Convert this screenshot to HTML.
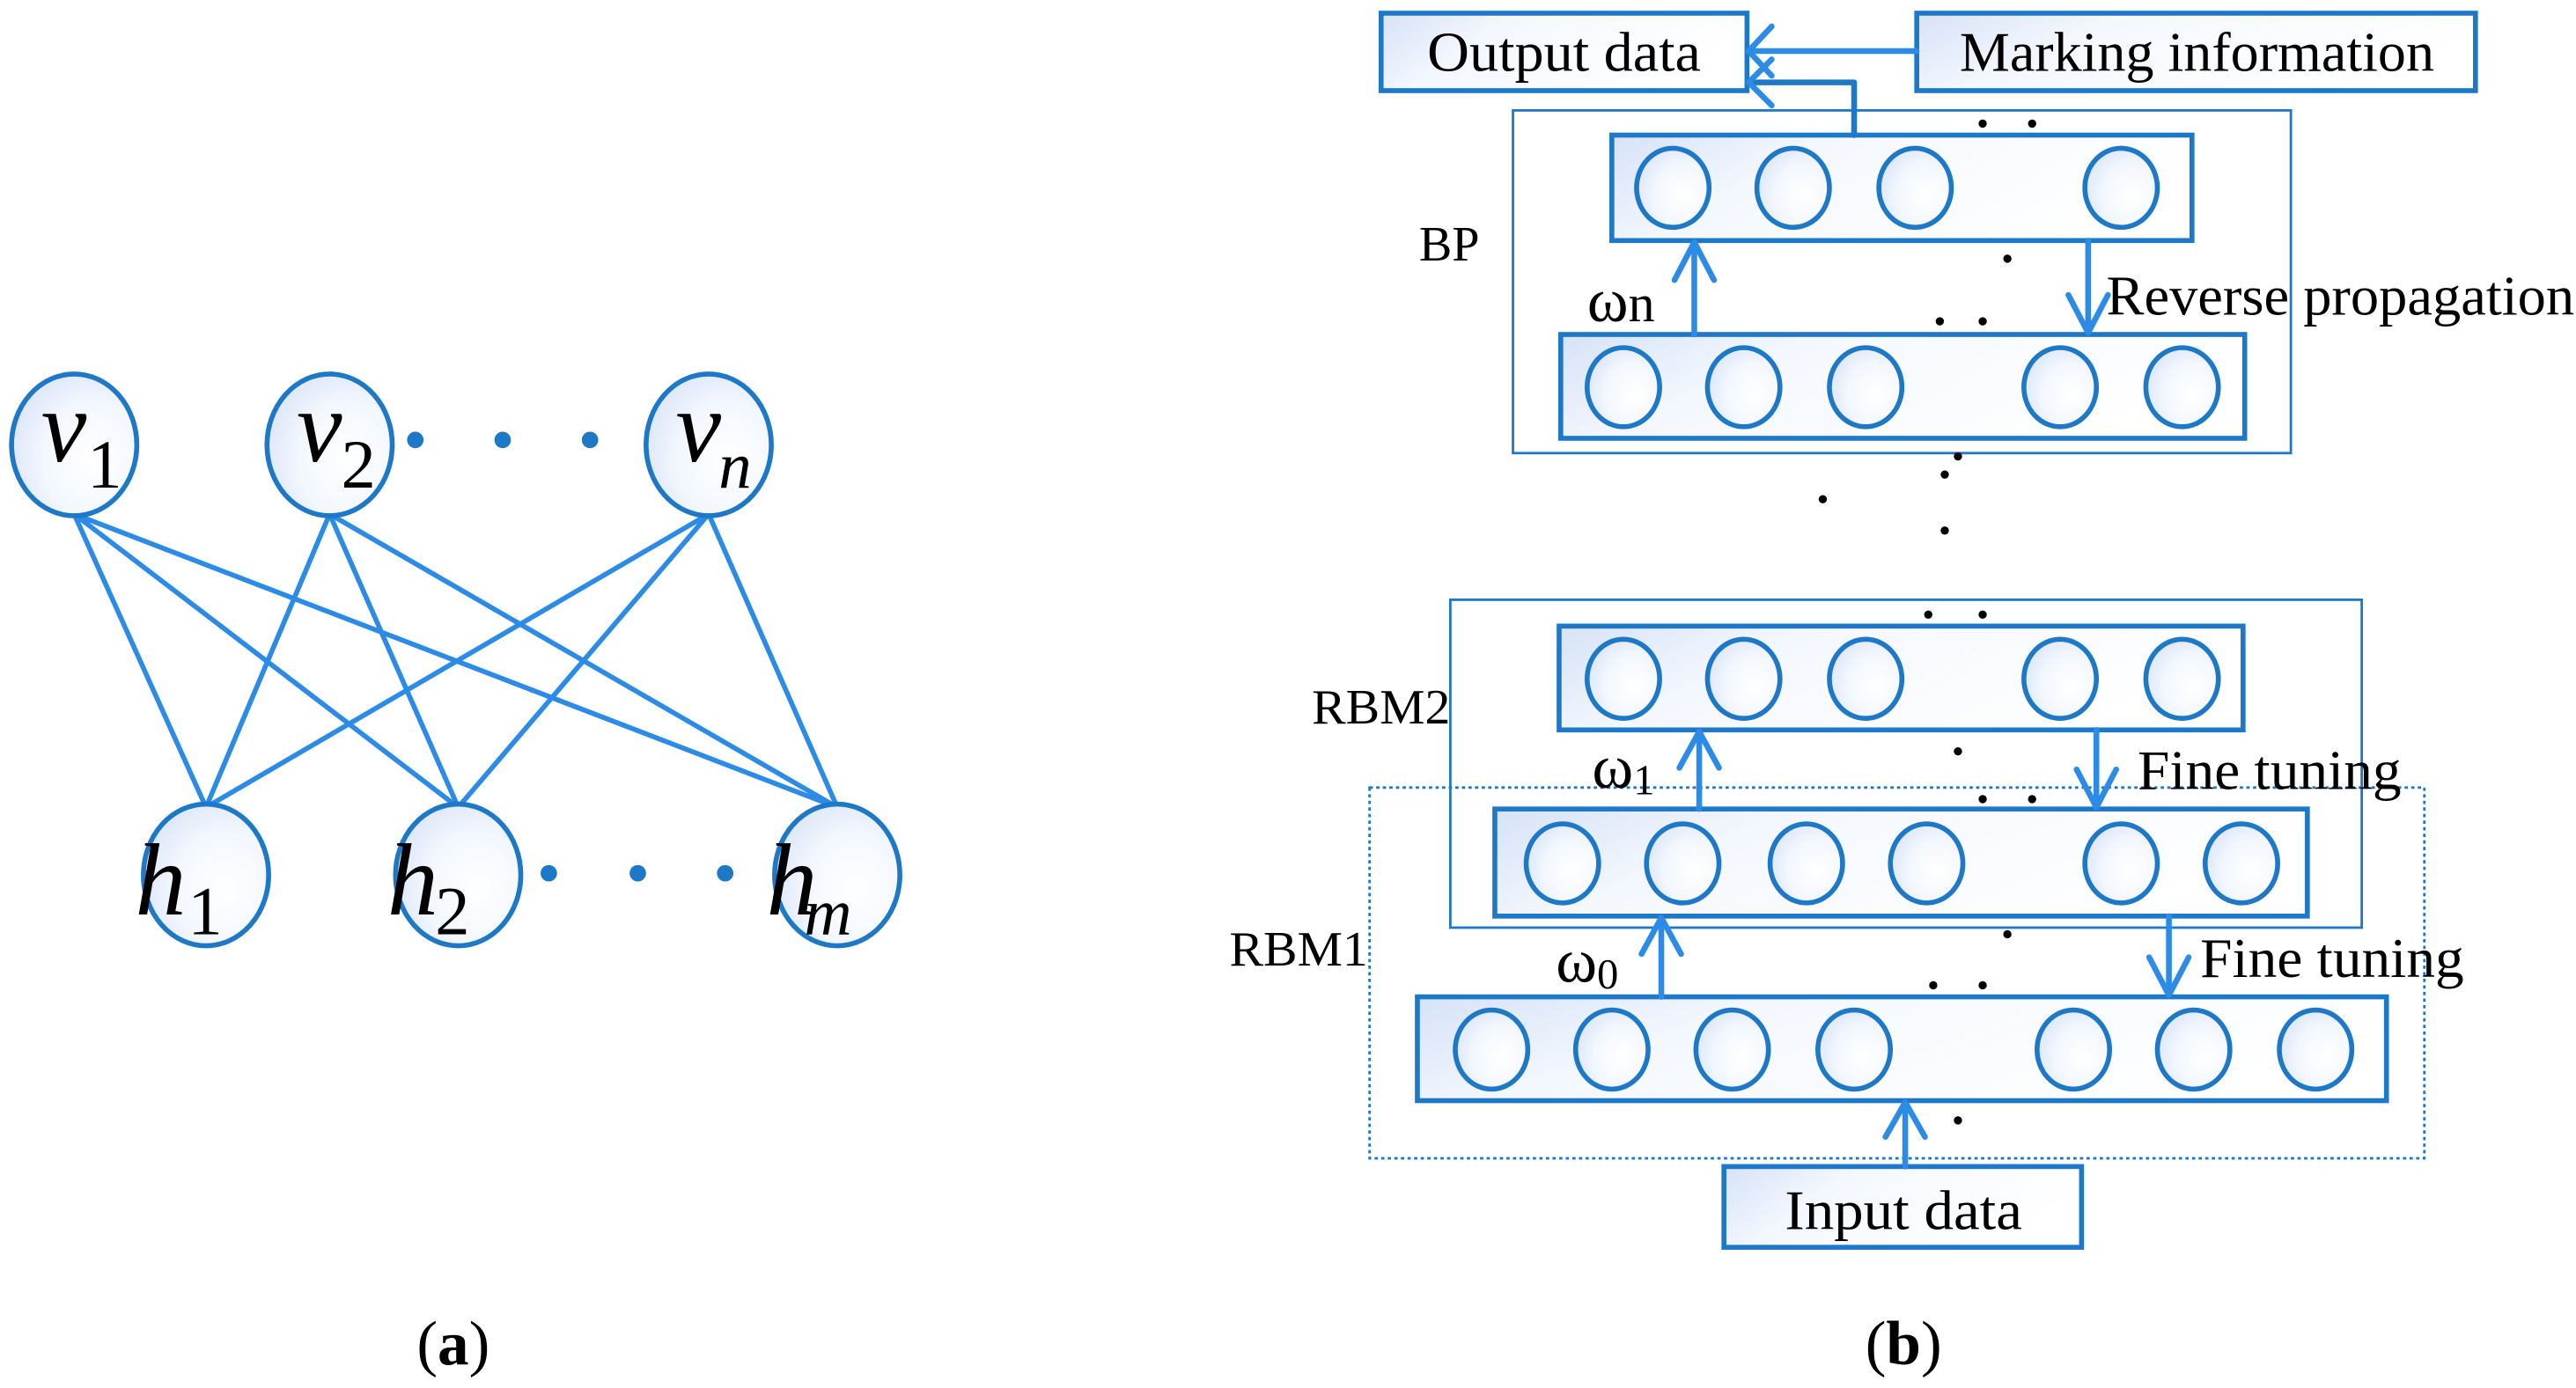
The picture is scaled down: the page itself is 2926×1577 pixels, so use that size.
<!DOCTYPE html>
<html><head><meta charset="utf-8"><style>html,body{margin:0;padding:0;background:#fff}svg{display:block}</style></head><body>
<svg width="2926" height="1577" viewBox="0 0 1563 842.4" xmlns="http://www.w3.org/2000/svg" font-family="Liberation Serif, serif">
<defs>
<radialGradient id="g" cx="0.65" cy="0.6" r="0.8"><stop offset="0" stop-color="#ffffff"/><stop offset="0.5" stop-color="#f3f7fe"/><stop offset="1" stop-color="#d3e0f7"/></radialGradient>
<linearGradient id="gb" x1="0" y1="0" x2="1" y2="0.3"><stop offset="0" stop-color="#d6e2f7"/><stop offset="0.35" stop-color="#f4f8fe"/><stop offset="1" stop-color="#ffffff"/></linearGradient>
</defs>
<g stroke="#2b8be6" stroke-width="3" fill="none">
<line x1="45" y1="312" x2="125" y2="490"/><line x1="45" y1="312" x2="278" y2="490"/><line x1="45" y1="312" x2="508" y2="490"/>
<line x1="200" y1="312" x2="125" y2="490"/><line x1="200" y1="312" x2="278" y2="490"/><line x1="200" y1="312" x2="508" y2="490"/>
<line x1="430" y1="312" x2="125" y2="490"/><line x1="430" y1="312" x2="278" y2="490"/><line x1="430" y1="312" x2="508" y2="490"/>
</g>
<g stroke="#1e78c8" stroke-width="3" fill="url(#g)">
<ellipse cx="45" cy="270" rx="38" ry="43"/><ellipse cx="200" cy="270" rx="38" ry="43"/><ellipse cx="430" cy="270" rx="38" ry="43"/>
<ellipse cx="125" cy="531" rx="38" ry="43"/><ellipse cx="278" cy="531" rx="38" ry="43"/><ellipse cx="508" cy="531" rx="38" ry="43"/>
</g>
<g fill="#1e78c8"><circle cx="252" cy="267" r="5"/><circle cx="305" cy="267" r="5"/><circle cx="358" cy="267" r="5"/>
<circle cx="333" cy="530" r="5"/><circle cx="387" cy="530" r="5"/><circle cx="440" cy="530" r="5"/></g>
<g font-style="italic" font-size="62" fill="#000">
<text x="25" y="280">v</text><text x="180" y="280">v</text><text x="410" y="280">v</text>
<text x="82" y="555">h</text><text x="235" y="555">h</text><text x="465" y="555">h</text>
</g>
<g font-size="42" fill="#000"><text x="53" y="296">1</text><text x="207" y="296">2</text><text x="264" y="567">2</text><text x="114" y="567">1</text></g>
<g font-size="40" font-style="italic" fill="#000"><text x="436" y="296">n</text><text x="488" y="567">m</text></g>
<text x="275" y="828" font-size="38" text-anchor="middle">(<tspan font-weight="bold">a</tspan>)</text>

<g fill="none" stroke="#1e78c8" stroke-width="1.5">
<rect x="918" y="67" width="472" height="208"/>
<rect x="880" y="364" width="553" height="199"/>
<rect x="831" y="478" width="640" height="225" stroke-dasharray="2,2"/>
</g>
<g stroke="#1e78c8" stroke-width="3" fill="url(#gb)">
<rect x="838" y="8" width="222" height="47"/><rect x="1163" y="8" width="339" height="47"/>
<rect x="978" y="82" width="352" height="64"/><rect x="947" y="203" width="415" height="63"/>
<rect x="946" y="380" width="415" height="63"/><rect x="907" y="491" width="493" height="65"/>
<rect x="860" y="605" width="588" height="63"/><rect x="1046" y="708" width="217" height="49"/>
</g>
<g stroke="#1e78c8" stroke-width="3" fill="url(#g)">
<ellipse cx="1015" cy="114" rx="22" ry="24"/><ellipse cx="1088" cy="114" rx="22" ry="24"/><ellipse cx="1162" cy="114" rx="22" ry="24"/><ellipse cx="1287" cy="114" rx="22" ry="24"/>
<ellipse cx="985" cy="235" rx="22" ry="24"/><ellipse cx="1058" cy="235" rx="22" ry="24"/><ellipse cx="1132" cy="235" rx="22" ry="24"/><ellipse cx="1250" cy="235" rx="22" ry="24"/><ellipse cx="1324" cy="235" rx="22" ry="24"/>
<ellipse cx="985" cy="412" rx="22" ry="24"/><ellipse cx="1058" cy="412" rx="22" ry="24"/><ellipse cx="1132" cy="412" rx="22" ry="24"/><ellipse cx="1250" cy="412" rx="22" ry="24"/><ellipse cx="1324" cy="412" rx="22" ry="24"/>
<ellipse cx="948" cy="524" rx="22" ry="24"/><ellipse cx="1021" cy="524" rx="22" ry="24"/><ellipse cx="1096" cy="524" rx="22" ry="24"/><ellipse cx="1169" cy="524" rx="22" ry="24"/><ellipse cx="1287" cy="524" rx="22" ry="24"/><ellipse cx="1360" cy="524" rx="22" ry="24"/>
<ellipse cx="905" cy="637" rx="22" ry="24"/><ellipse cx="978" cy="637" rx="22" ry="24"/><ellipse cx="1051" cy="637" rx="22" ry="24"/><ellipse cx="1125" cy="637" rx="22" ry="24"/><ellipse cx="1258" cy="637" rx="22" ry="24"/><ellipse cx="1331" cy="637" rx="22" ry="24"/><ellipse cx="1405" cy="637" rx="22" ry="24"/>
</g>
<g stroke="#2b8be6" stroke-width="3.5" fill="none" stroke-linecap="round" stroke-linejoin="round">
<line x1="1163" y1="31" x2="1061" y2="31"/><polyline points="1075,16 1061,31 1075,46"/>
<polyline points="1125,82 1125,50 1061,50" stroke="#1e78c8"/><polyline points="1075,36 1061,50 1075,64"/>
<line x1="1028" y1="203" x2="1028" y2="147"/><polyline points="1016,170 1028,147 1040,170"/>
<line x1="1267" y1="146" x2="1267" y2="202"/><polyline points="1255,179 1267,202 1279,179"/>
<line x1="1031" y1="491" x2="1031" y2="444"/><polyline points="1019,466 1031,444 1043,466"/>
<line x1="1272" y1="443" x2="1272" y2="490"/><polyline points="1260,467 1272,490 1284,467"/>
<line x1="1008" y1="605" x2="1008" y2="557"/><polyline points="996,579 1008,557 1020,579"/>
<line x1="1316" y1="556" x2="1316" y2="604"/><polyline points="1304,581 1316,604 1328,581"/>
<line x1="1156" y1="708" x2="1156" y2="669"/><polyline points="1144,690 1156,669 1168,690"/>
</g>
<g fill="#000">
<circle cx="1203" cy="75" r="2.5"/><circle cx="1233" cy="75" r="2.5"/><circle cx="1218" cy="157" r="2.5"/><circle cx="1177" cy="195" r="2.5"/><circle cx="1203" cy="195" r="2.5"/>
<circle cx="1188" cy="277" r="2.5"/><circle cx="1180" cy="288" r="2.5"/><circle cx="1106" cy="303" r="2.5"/><circle cx="1180" cy="322" r="2.5"/>
<circle cx="1170" cy="373" r="2.5"/><circle cx="1203" cy="373" r="2.5"/><circle cx="1188" cy="456" r="2.5"/><circle cx="1203" cy="485" r="2.5"/><circle cx="1233" cy="485" r="2.5"/>
<circle cx="1218" cy="567" r="2.5"/><circle cx="1173" cy="598" r="2.5"/><circle cx="1203" cy="598" r="2.5"/><circle cx="1188" cy="680" r="2.5"/>
</g>
<g font-size="34" fill="#000">
<text x="949" y="43" text-anchor="middle" textLength="166" lengthAdjust="spacingAndGlyphs">Output data</text>
<text x="1333" y="43" text-anchor="middle" textLength="288" lengthAdjust="spacingAndGlyphs">Marking information</text>
<text x="1155" y="746" text-anchor="middle" textLength="144" lengthAdjust="spacingAndGlyphs">Input data</text>
<text x="1278" y="191" textLength="284" lengthAdjust="spacingAndGlyphs">Reverse propagation</text>
<text x="1297" y="479" textLength="160" lengthAdjust="spacingAndGlyphs">Fine tuning</text>
<text x="1335" y="593" textLength="160" lengthAdjust="spacingAndGlyphs">Fine tuning</text>
<text x="861" y="158" font-size="30">BP</text>
<text x="796" y="439" font-size="30" textLength="84" lengthAdjust="spacingAndGlyphs">RBM2</text>
<text x="746" y="586" font-size="30" textLength="84" lengthAdjust="spacingAndGlyphs">RBM1</text>
<text x="963" y="195" font-size="38">ω<tspan font-size="32">n</tspan></text>
<text x="966" y="478" font-size="38">ω<tspan font-size="26" dy="4">1</tspan></text>
<text x="944" y="596" font-size="38">ω<tspan font-size="26" dy="4">0</tspan></text>
</g>
<text x="1155" y="828" font-size="38" text-anchor="middle">(<tspan font-weight="bold">b</tspan>)</text>
</svg>
</body></html>
